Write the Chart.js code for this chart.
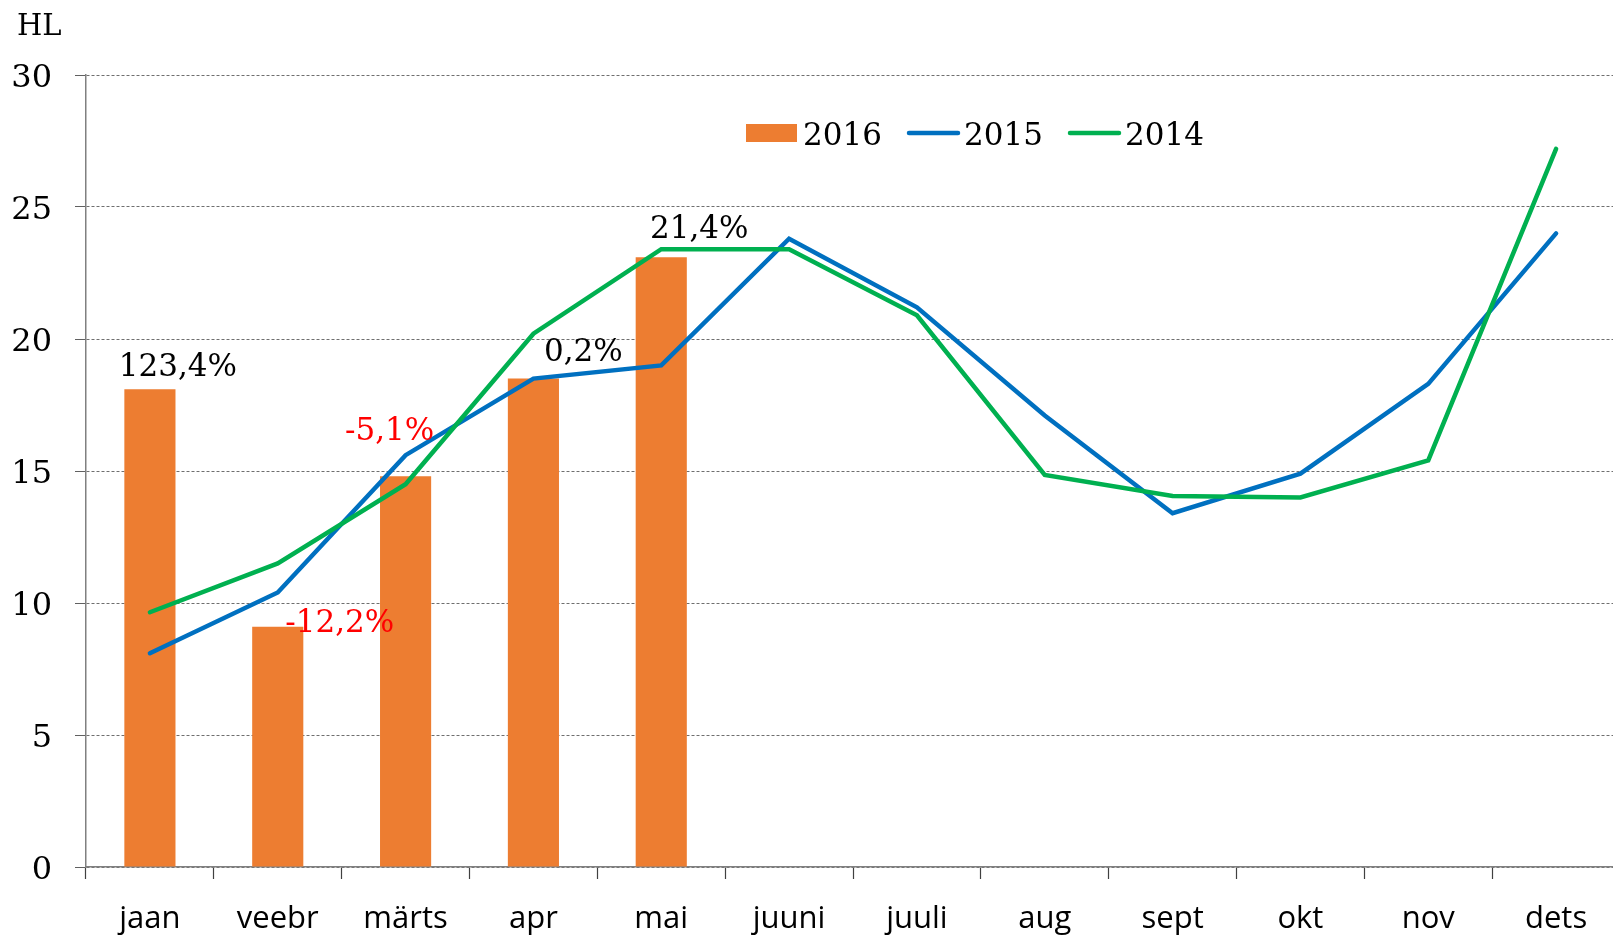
<!DOCTYPE html>
<html>
<head>
<meta charset="utf-8">
<script src="https://cdn.jsdelivr.net/npm/chart.js@4"></script>
<style>
    html, body { margin: 0; padding: 0; overflow: hidden; background: #fff; }
    #wrap { position: relative; width: 1622px; height: 935px; }
</style>
</head>
<body>
<div id="wrap"><canvas id="hlChart"></canvas></div>
<script>
// Data
const months = ['jaan', 'veebr', 'märts', 'apr', 'mai', 'juuni', 'juuli', 'aug', 'sept', 'okt', 'nov', 'dets'];
const hl2016 = [18.1, 9.1, 14.8, 18.5, 23.1];
const hl2015 = [8.1, 10.4, 15.6, 18.5, 19.0, 23.8, 21.2, 17.1, 13.4, 14.9, 18.3, 24.0];
const hl2014 = [9.65, 11.5, 14.5, 20.2, 23.4, 23.4, 20.9, 14.85, 14.05, 14.0, 15.4, 27.2];
const changeLabels = ['123,4%', '-12,2%', '-5,1%', '0,2%', '21,4%'];
const yMin = 0, yMax = 30, yStep = 5;
const unitLabel = 'HL';

// where each % label sits relative to its bar top (dx, dy)
const labelShift = [[28, -21], [62, -3], [-16, -44], [50, -26], [38, -27]];

const ORANGE = '#ED7D31';
const BLUE = '#0070C0';
const GREEN = '#00B050';
const SERIF = '"DejaVu Serif", serif';

const percentLabels = {
    id: 'percentLabels',
    afterDatasetsDraw(chart) {
        const ctx = chart.ctx;
        const meta = chart.getDatasetMeta(0);
        ctx.save();
        ctx.font = '31px ' + SERIF;
        ctx.textAlign = 'center';
        ctx.textBaseline = 'middle';
        meta.data.forEach((bar, i) => {
            const text = changeLabels[i];
            if (!text) return;
            const [dx, dy] = labelShift[i];
            ctx.fillStyle = text.startsWith('-') ? '#FF0000' : '#000000';
            ctx.fillText(text, bar.x + dx, bar.y + dy);
        });
        ctx.restore();
    }
};

// legend sits inside the plot, right of centre, like the original
const insideLegend = {
    id: 'insideLegend',
    afterDraw(chart) {
        const ctx = chart.ctx;
        ctx.save();
        ctx.font = '31px ' + SERIF;
        ctx.textBaseline = 'middle';
        ctx.fillStyle = '#000';
        const items = [
            { x: 746, ds: chart.data.datasets[0] },
            { x: 907, ds: chart.data.datasets[1] },
            { x: 1068, ds: chart.data.datasets[2] }
        ];
        const y = 133;
        items.forEach(item => {
            if (item.ds.type === 'line') {
                ctx.strokeStyle = item.ds.borderColor;
                ctx.lineWidth = 4.5;
                ctx.lineCap = 'round';
                ctx.beginPath();
                ctx.moveTo(item.x + 2, y);
                ctx.lineTo(item.x + 51, y);
                ctx.stroke();
            } else {
                ctx.fillStyle = item.ds.backgroundColor;
                ctx.fillRect(item.x, y - 9, 51, 18);
            }
            ctx.fillStyle = '#000';
            ctx.fillText(item.ds.label, item.x + 57, y + 4);
        });

        // unit above the y axis
        ctx.font = '29px ' + SERIF;
        ctx.textBaseline = 'alphabetic';
        ctx.fillText(unitLabel, 17, 35);
        ctx.restore();
    }
};

const hlChart = new Chart(document.getElementById('hlChart'), {
    type: 'bar',
    data: {
        labels: months,
        datasets: [
            {
                label: '2016',
                data: hl2016,
                backgroundColor: ORANGE,
                barPercentage: 0.4,
                categoryPercentage: 1.0,
                order: 3
            },
            {
                type: 'line',
                label: '2015',
                data: hl2015,
                borderColor: BLUE,
                backgroundColor: BLUE,
                borderWidth: 4.5,
                pointRadius: 0,
                borderCapStyle: 'round',
                tension: 0,
                order: 2
            },
            {
                type: 'line',
                label: '2014',
                data: hl2014,
                borderColor: GREEN,
                backgroundColor: GREEN,
                borderWidth: 4.5,
                pointRadius: 0,
                borderCapStyle: 'round',
                tension: 0,
                order: 1
            }
        ]
    },
    options: {
        responsive: true,
        maintainAspectRatio: false,
        animation: false,
        layout: { padding: { top: 75, right: 2, left: 0, bottom: 0 } },
        plugins: {
            legend: { display: false },
            tooltip: { enabled: false }
        },
        scales: {
            x: {
                offset: true,
                grid: {
                    offset: true,
                    drawOnChartArea: false,
                    drawTicks: true,
                    tickLength: 12,
                    tickColor: '#404040',
                    tickWidth: 1.2
                },
                border: { color: '#808080', width: 1.5 },
                ticks: {
                    color: '#000',
                    padding: 22,
                    font: { family: '"Open Sans", sans-serif', size: 31 }
                },
                afterFit(scale) { scale.height = 68; }
            },
            y: {
                min: yMin,
                max: yMax,
                ticks: {
                    stepSize: yStep,
                    color: '#000',
                    padding: 23,
                    labelOffset: 4,
                    font: { family: SERIF, size: 32 }
                },
                grid: {
                    color: '#6f6f6f',
                    lineWidth: 1,
                    tickLength: 11,
                    tickColor: '#606060',
                    tickBorderDash: []
                },
                border: { color: '#808080', width: 1.5, dash: [3, 2] },
                afterFit(scale) { scale.width = 86; }
            }
        }
    },
    plugins: [percentLabels, insideLegend]
});
</script>
</body>
</html>
